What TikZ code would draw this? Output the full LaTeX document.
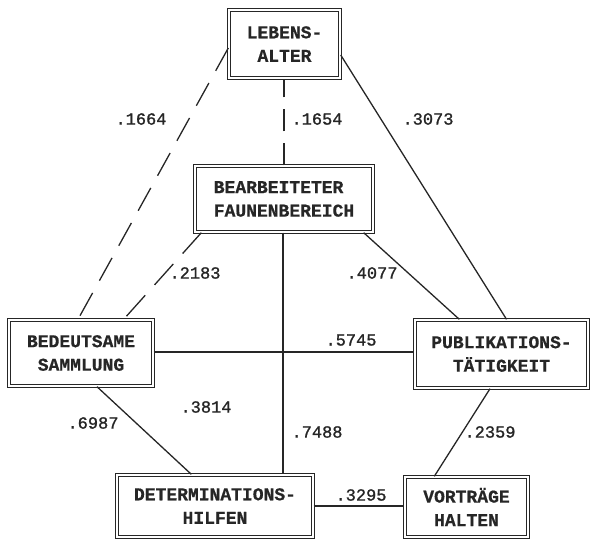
\documentclass[tikz,border=0pt]{standalone}
\usepackage{fontspec}
\setmainfont{Liberation Mono}
\newfontfamily\lblfont{Liberation Mono}[FakeBold=1.2]
\newfontfamily\boxfont{Liberation Mono Bold}[FakeBold=0.6]
\usetikzlibrary{calc}
\definecolor{ink}{gray}{0.15}
\tikzset{
 box/.style={draw=ink, double=white, line width=1.2pt, double distance=1.4pt,
   font=\fontsize{18}{23.5}\selectfont\boxfont, text=ink, align=center, inner sep=0pt},
 lbl/.style={font=\fontsize{17}{20}\selectfont\lblfont, text=ink, inner sep=0pt},
 conn/.style={draw=ink, line width=1.3pt},
 dsh/.style={conn, dash pattern=on 26pt off 14pt}
}
\begin{document}
\begin{tikzpicture}[x=1pt,y=-1pt]
\useasboundingbox (0,0) rectangle (593,541);
% boxes
\node[box, minimum width=111.2pt, minimum height=68.2pt] (leb) at (284.5,44) {LEBENS-\\ALTER};
\node[box, align=left, minimum width=178.2pt, minimum height=66.2pt] (bea) at (284,199) {BEARBEITETER\\FAUNENBEREICH};
\node[box, minimum width=144.2pt, minimum height=66.2pt] (sam) at (81,353) {BEDEUTSAME\\SAMMLUNG};
\node[box, minimum width=173.2pt, minimum height=68.2pt] (pub) at (501.5,354) {PUBLIKATIONS-\\TÄTIGKEIT};
\node[box, minimum width=196.2pt, minimum height=62.2pt] (det) at (215,506) {DETERMINATIONS-\\HILFEN};
\node[box, minimum width=123.2pt, minimum height=60.2pt] (vor) at (466.5,507) {VORTRÄGE\\HALTEN};
% connectors
\draw[dsh] ([yshift=-4pt]leb.west) -- ([xshift=-3pt]sam.north);
\draw[conn, dash pattern=on 22pt off 12pt] (bea.north) -- (bea.north |- leb.south);
\draw[conn] ([yshift=-11pt]leb.east) -- ([xshift=5pt]pub.north);
\draw[conn, dash pattern=on 28pt off 14pt] ([xshift=7pt]bea.south west) -- ([xshift=-30pt]sam.north east);
\draw[conn] ([xshift=-1pt]bea.south) -- ([xshift=-1pt]bea.south |- det.north);
\draw[conn] ([xshift=-10pt]bea.south east) -- ([xshift=45pt]pub.north west);
\draw[conn] ([yshift=1pt]sam.east) -- ([yshift=1pt]sam.east -| pub.west);
\draw[conn] ([xshift=16pt]sam.south) -- ([xshift=75pt]det.north west);
\draw[conn] ([xshift=-11.5pt]pub.south) -- ([xshift=30pt]vor.north west);
\draw[conn] (det.east) -- (det.east -| vor.west);
% labels
\node[lbl] (l1) at (141,119) {.1664};
\node[lbl] (l2) at (317,119) {.1654};
\node[lbl] (l3) at (428,119) {.3073};
\node[lbl] (l4) at (195,273) {.2183};
\node[lbl] (l5) at (372,273) {.4077};
\node[lbl] (l6) at (351,340) {.5745};
\node[lbl] (l7) at (93,423) {.6987};
\node[lbl] (l8) at (206,407) {.3814};
\node[lbl] (l9) at (317,432) {.7488};
\node[lbl] (l10) at (490,432) {.2359};
\node[lbl] (l11) at (361,495) {.3295};
\end{tikzpicture}
\end{document}
